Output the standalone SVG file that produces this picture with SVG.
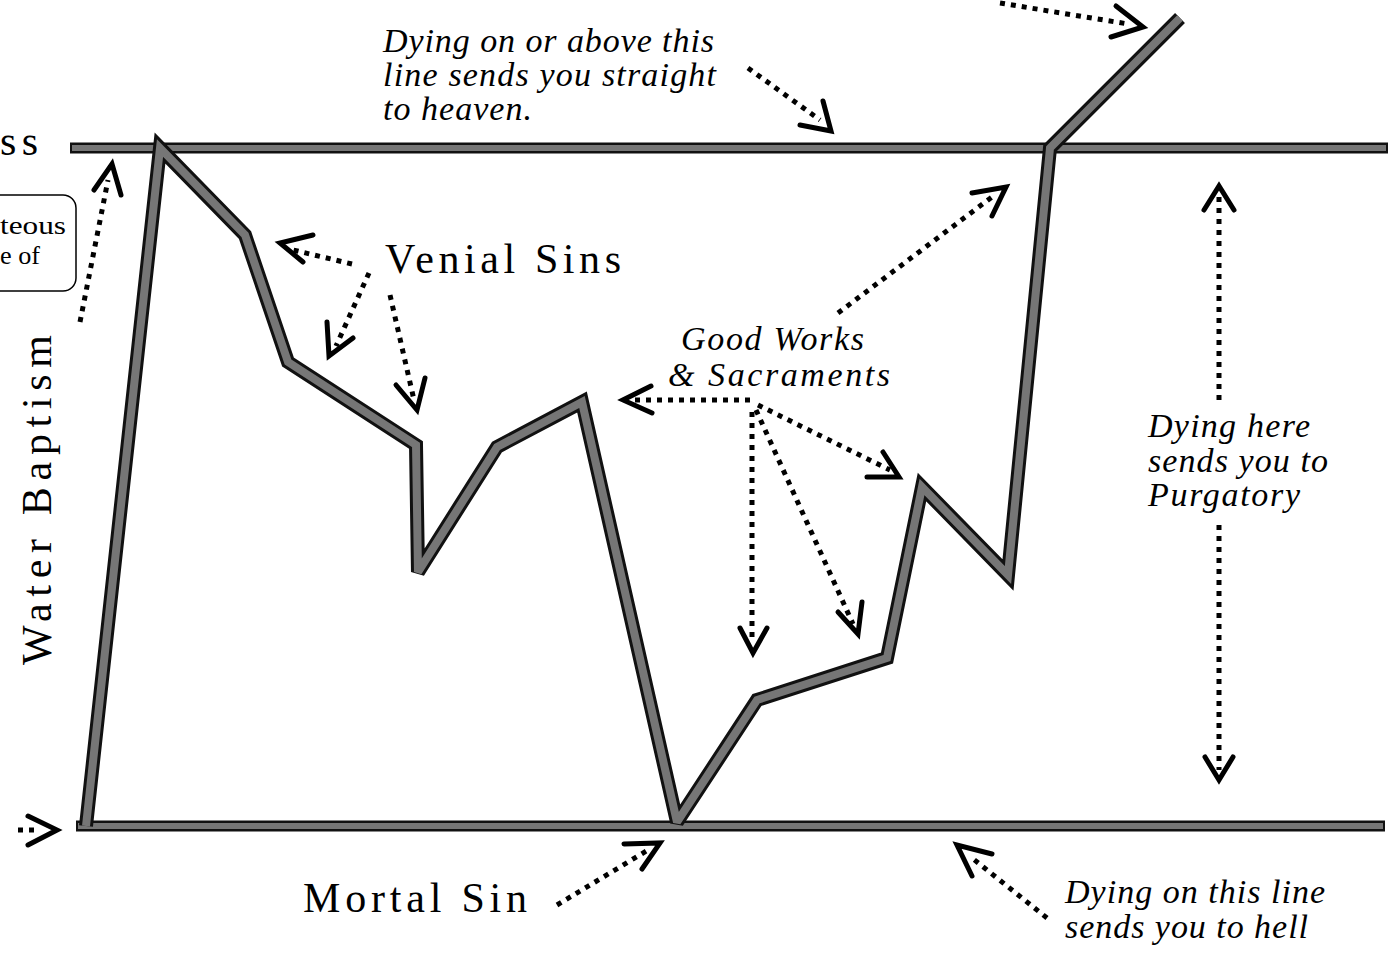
<svg xmlns="http://www.w3.org/2000/svg" width="1388" height="953" viewBox="0 0 1388 953">
<style>
.out{fill:none;stroke:#111;stroke-linejoin:miter;stroke-miterlimit:2.5;stroke-linecap:butt}
.in{fill:none;stroke:#767676;stroke-linejoin:miter;stroke-miterlimit:2.5;stroke-linecap:butt}
.dot{fill:none;stroke:#000;stroke-width:5;stroke-dasharray:5 6}
.head{fill:none;stroke:#000;stroke-width:5;stroke-linecap:round;stroke-linejoin:miter}
.it{font-family:"Liberation Serif","DejaVu Serif",serif;font-style:italic;font-size:34px;fill:#000}
.up{font-family:"Liberation Serif","DejaVu Serif",serif;font-size:42px;fill:#000}
.sm{font-family:"Liberation Serif","DejaVu Serif",serif;font-size:25px;fill:#000}
</style>
<rect width="1388" height="953" fill="#fff"/>
<g id="lines">
<line class="out" x1="70" y1="148" x2="1388" y2="148" stroke-width="11"/>
<line class="in" x1="72" y1="148" x2="1386" y2="148" stroke-width="6"/>
<line class="out" x1="76" y1="826" x2="1385" y2="826" stroke-width="11"/>
<line class="in" x1="78" y1="826" x2="1383" y2="826" stroke-width="6"/>
<polyline class="out" stroke-width="14" points="86,826 160,148 245,235 288,362 416,445 418,572 497,447 582,402 677,822 757,700 887,658 922,487 1008,575 1050,148 1180,18"/>
<polyline class="in" stroke-width="8" points="86,826 160,148 245,235 288,362 416,445 418,572 497,447 582,402 677,822 757,700 887,658 922,487 1008,575 1050,148 1180,18"/>
</g>
<g id="label-ss"><text class="up" x="0" y="155" font-size="32" textLength="38" lengthAdjust="spacing">ss</text></g>
<g id="box">
<rect x="-20" y="195" width="96" height="96" rx="13" fill="#fff" stroke="#000" stroke-width="1.5"/>
<text class="sm" x="0" y="234" textLength="66" lengthAdjust="spacingAndGlyphs">teous</text>
<text class="sm" x="0" y="264" textLength="40" lengthAdjust="spacingAndGlyphs">e of</text>
</g>
<g id="label-water"><text class="up" transform="translate(51,665) rotate(-90)" font-size="42" textLength="330" lengthAdjust="spacing">Water  Baptism</text></g>
<g id="label-heaven">
<text class="it" x="383" y="52" textLength="331" lengthAdjust="spacing">Dying on or above this</text>
<text class="it" x="383" y="86" textLength="333" lengthAdjust="spacing">line sends you  straight</text>
<text class="it" x="383" y="120" textLength="149" lengthAdjust="spacing">to heaven.</text>
</g>
<g id="label-venial"><text class="up" x="385" y="273" textLength="236" lengthAdjust="spacing">Venial  Sins</text></g>
<g id="label-good">
<text class="it" x="681" y="350" textLength="183" lengthAdjust="spacing">Good Works</text>
<text class="it" x="668" y="386" textLength="222" lengthAdjust="spacing">&amp; Sacraments</text>
</g>
<g id="label-purgatory">
<text class="it" x="1148" y="437" textLength="162" lengthAdjust="spacing">Dying here</text>
<text class="it" x="1148" y="472" textLength="180" lengthAdjust="spacing">sends you to</text>
<text class="it" x="1148" y="506" textLength="152" lengthAdjust="spacing">Purgatory</text>
</g>
<g id="label-mortal"><text class="up" x="303" y="912" textLength="224" lengthAdjust="spacing">Mortal  Sin</text></g>
<g id="label-hell">
<text class="it" x="1065" y="903" textLength="260" lengthAdjust="spacing">Dying on this line</text>
<text class="it" x="1065" y="938" textLength="243" lengthAdjust="spacing">sends you to hell</text>
</g>
<g id="connectors">
<line class="dot" x1="80" y1="322" x2="108" y2="180"/>
<polyline class="head" points="94,190 112,164 121,195"/>
<line class="dot" x1="18" y1="830" x2="38" y2="830"/>
<polyline class="head" points="28,816 57,830 28,845"/>
<line class="dot" x1="1000" y1="3" x2="1128" y2="24"/>
<polyline class="head" points="1116,6 1143,27 1111,37"/>
<line class="dot" x1="748" y1="68" x2="820" y2="120"/>
<polyline class="head" points="823,101 831,131 800,125"/>
<line class="dot" x1="352" y1="264" x2="293" y2="250"/>
<polyline class="head" points="313,235 280,243 303,262"/>
<line class="dot" x1="369" y1="273" x2="336" y2="346"/>
<polyline class="head" points="327,322 329,356 353,338"/>
<line class="dot" x1="390" y1="295" x2="414" y2="400"/>
<polyline class="head" points="396,385 417,410 425,378"/>
<line class="dot" x1="750" y1="400" x2="634" y2="400"/>
<polyline class="head" points="651,386 623,400 652,413"/>
<line class="dot" x1="752" y1="412" x2="752" y2="642"/>
<polyline class="head" points="740,628 753,653 767,628"/>
<line class="dot" x1="756" y1="410" x2="853" y2="624"/>
<polyline class="head" points="838,612 858,634 862,602"/>
<line class="dot" x1="758" y1="405" x2="890" y2="470"/>
<polyline class="head" points="867,477 899,477 883,452"/>
<line class="dot" x1="838" y1="313" x2="992" y2="197"/>
<polyline class="head" points="972,193 1006,187 992,216"/>
<line class="dot" x1="1219" y1="197" x2="1219" y2="400"/>
<polyline class="head" points="1204,210 1219,186 1234,210"/>
<line class="dot" x1="1219" y1="525" x2="1219" y2="770"/>
<polyline class="head" points="1205,757 1219,780 1233,757"/>
<line class="dot" x1="557" y1="905" x2="648" y2="850"/>
<polyline class="head" points="624,844 660,843 642,869"/>
<line class="dot" x1="1047" y1="918" x2="972" y2="858"/>
<polyline class="head" points="992,854 957,845 972,876"/>
</g>
</svg>
